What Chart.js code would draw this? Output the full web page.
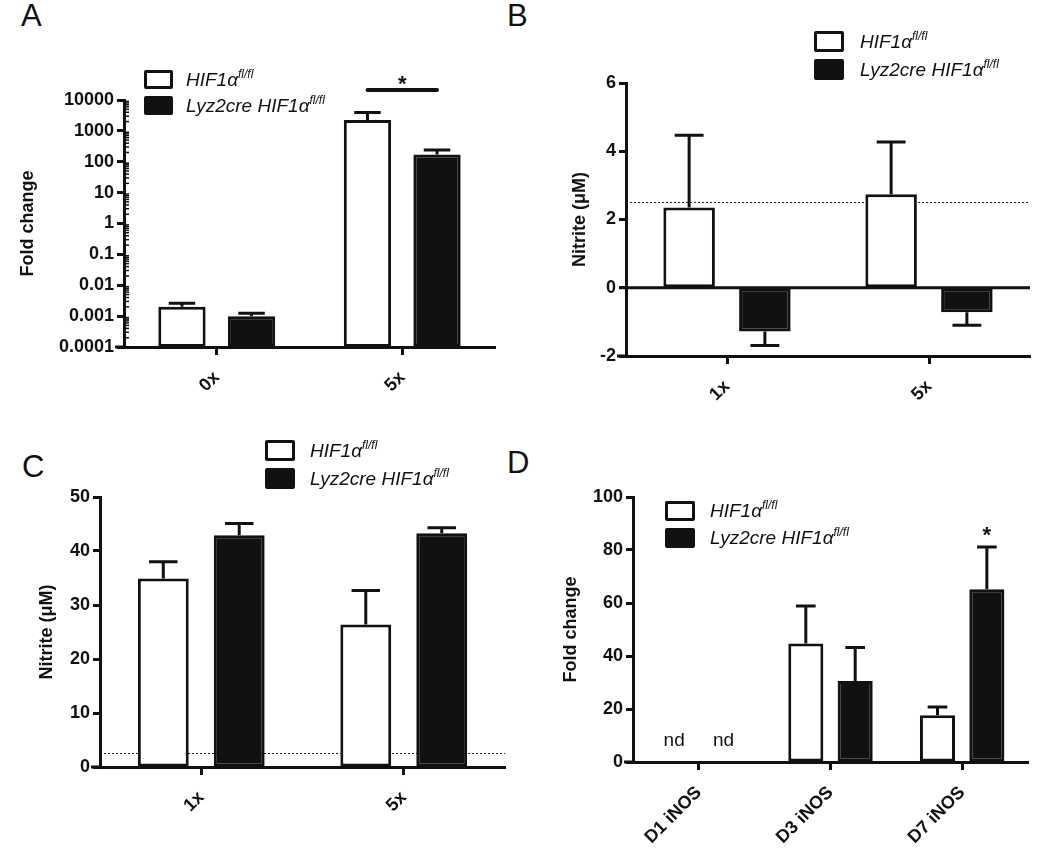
<!DOCTYPE html>
<html>
<head>
<meta charset="utf-8">
<script src="https://cdn.jsdelivr.net/npm/chart.js@4.4.0/dist/chart.umd.min.js"></script>
<style>
body { margin:0; background:#fff; width:1050px; height:862px; position:relative; overflow:hidden; font-family:"Liberation Sans", Arial, sans-serif; color:#111; }
canvas { position:absolute; }
.letter { position:absolute; font-size:31px; line-height:1; }
.box { position:absolute; box-sizing:border-box; border:3px solid #111; border-radius:2px; background:#fff; }
.box.dark { background:#111; }
.txt { position:absolute; font-style:italic; font-size:19px; white-space:nowrap; }
.txt sup { font-size:12px; vertical-align:8px; line-height:0; }
</style>
</head>
<body>
<div class="letter" style="left:21px;top:0px">A</div>
<div class="letter" style="left:507px;top:0px">B</div>
<div class="letter" style="left:22px;top:451px">C</div>
<div class="letter" style="left:507px;top:447px">D</div>

<canvas id="chartA" width="515" height="425" style="left:0;top:0"></canvas>
<canvas id="chartB" width="530" height="425" style="left:520px;top:0"></canvas>
<canvas id="chartC" width="515" height="432" style="left:0;top:430px"></canvas>
<canvas id="chartD" width="530" height="432" style="left:520px;top:430px"></canvas>

<script>
// ---- data ----
var seriesNames = ['HIF1α fl/fl', 'Lyz2cre HIF1α fl/fl'];

// A: fold change, log scale
var catsA = ['0x', '5x'];
var wtA = [0.002, 2230];
var wtErrA = [0.0006, 1700];
var koA = [0.001, 172];
var koErrA = [0.00023, 66];
var yTicksA = [0.0001, 0.001, 0.01, 0.1, 1, 10, 100, 1000, 10000];

// B: nitrite (uM)
var catsB = ['1x', '5x'];
var wtB = [2.35, 2.74];
var wtErrB = [2.12, 1.53];
var koB = [-1.28, -0.72];
var koErrB = [0.41, 0.38];
var limitB = 2.5;

// C: nitrite (uM)
var catsC = ['1x', '5x'];
var wtC = [34.9, 26.4];
var wtErrC = [3.1, 6.3];
var koC = [42.9, 43.3];
var koErrC = [2.2, 1.0];
var limitC = 2.5;

// D: iNOS fold change (D1 not detected)
var catsD = ['D1 iNOS', 'D3 iNOS', 'D7 iNOS'];
var wtD = [null, 44.7, 17.6];
var wtErrD = [null, 14.2, 3.2];
var koD = [null, 30.6, 65.2];
var koErrD = [null, 12.6, 15.9];
var ndLevelD = 8;

Chart.defaults.font.family = "'Liberation Sans', Arial, sans-serif";
Chart.defaults.color = '#111';

// error bars, detection limit, zero line, stars etc.
var extras = {
    id: 'extras',
    beforeDatasetsDraw: function(chart, args, o) {
        if (o.dotted == null) return;
        var ctx = chart.ctx, a = chart.chartArea;
        var py = chart.scales.y.getPixelForValue(o.dotted);
        ctx.save();
        ctx.strokeStyle = '#222';
        ctx.lineWidth = 1;
        ctx.setLineDash([2, 2]);
        ctx.beginPath();
        ctx.moveTo(a.left, py);
        ctx.lineTo(a.right, py);
        ctx.stroke();
        ctx.restore();
    },
    afterDatasetsDraw: function(chart, args, o) {
        var ctx = chart.ctx, a = chart.chartArea, ys = chart.scales.y;
        ctx.save();
        ctx.strokeStyle = '#111';
        ctx.fillStyle = '#111';
        ctx.lineWidth = 3;

        // x axis sticks out a bit left of the y axis
        ctx.beginPath();
        ctx.moveTo(a.left - 9, a.bottom);
        ctx.lineTo(a.left, a.bottom);
        ctx.stroke();

        if (o.zeroLine) {
            var z = ys.getPixelForValue(0);
            ctx.beginPath();
            ctx.moveTo(a.left - 7, z);
            ctx.lineTo(a.right, z);
            ctx.stroke();
        }

        // one sided error bars, pointing away from zero
        (o.errors || []).forEach(function(errs, d) {
            var meta = chart.getDatasetMeta(d);
            var vals = chart.data.datasets[d].data;
            meta.data.forEach(function(bar, i) {
                if (vals[i] == null || errs[i] == null) return;
                var sign = vals[i] < 0 ? -1 : 1;
                var y0 = ys.getPixelForValue(vals[i]);
                var y1 = ys.getPixelForValue(vals[i] + sign * errs[i]);
                var half = bar.width * 0.28;
                ctx.beginPath();
                ctx.moveTo(bar.x, y0);
                ctx.lineTo(bar.x, y1);
                ctx.moveTo(bar.x - half, y1);
                ctx.lineTo(bar.x + half, y1);
                ctx.stroke();
            });
        });

        // minor ticks of the log axis, drawn inside
        if (o.minorTicks) {
            ctx.lineWidth = 1.5;
            for (var t = 0; t < o.minorTicks.length - 1; t++) {
                for (var k = 2; k <= 9; k++) {
                    var my = ys.getPixelForValue(o.minorTicks[t] * k);
                    ctx.beginPath();
                    ctx.moveTo(a.left + 1, my);
                    ctx.lineTo(a.left + 5, my);
                    ctx.stroke();
                }
            }
            ctx.lineWidth = 3;
        }

        if (o.bracket) {
            var b1 = chart.getDatasetMeta(o.bracket[0][0]).data[o.bracket[0][1]];
            var b2 = chart.getDatasetMeta(o.bracket[1][0]).data[o.bracket[1][1]];
            var by = a.top - 10;
            ctx.lineCap = 'round';
            ctx.lineWidth = 4;
            ctx.beginPath();
            ctx.moveTo(b1.x, by);
            ctx.lineTo(b2.x, by);
            ctx.stroke();
            ctx.font = 'bold 22px "Liberation Sans", Arial';
            ctx.textAlign = 'center';
            ctx.textBaseline = 'middle';
            ctx.fillText('*', (b1.x + b2.x) / 2, by - 5);
        }

        if (o.star) {
            var d = o.star[0], i = o.star[1];
            var sb = chart.getDatasetMeta(d).data[i];
            var v = chart.data.datasets[d].data[i] + o.errors[d][i];
            ctx.font = 'bold 22px "Liberation Sans", Arial';
            ctx.textAlign = 'center';
            ctx.textBaseline = 'middle';
            ctx.fillText('*', sb.x, ys.getPixelForValue(v) - 11);
        }

        if (o.nd) {
            ctx.font = '19px "Liberation Sans", Arial';
            ctx.textAlign = 'center';
            ctx.textBaseline = 'middle';
            chart.data.datasets.forEach(function(ds, d) {
                var nb = chart.getDatasetMeta(d).data[o.nd.index];
                ctx.fillText('nd', nb.x, ys.getPixelForValue(o.nd.level));
            });
        }
        ctx.restore();
    }
};

function makeChart(id, cats, wt, ko, yOpts, box, plug) {
    var yScale = Object.assign({
        border: { display: true, width: 3, color: '#111' },
        grid: { drawOnChartArea: false, drawTicks: true, tickLength: 7, tickWidth: 3, color: '#111' },
        ticks: { font: { size: 18, weight: 'bold' }, color: '#111', padding: 3 },
        title: { display: true, text: yOpts.title, font: { size: 18, weight: 'bold' }, color: '#111',
                 padding: { top: box.titlePad, bottom: 0 } },
        afterFit: function(s) { s.width = box.yWidth; }
    }, yOpts.scale);
    yScale.ticks = Object.assign(yScale.ticks, yOpts.ticks || {});

    return new Chart(document.getElementById(id), {
        type: 'bar',
        data: {
            labels: cats,
            datasets: [{
                label: seriesNames[0],
                data: wt,
                backgroundColor: '#fff',
                borderColor: '#111',
                borderWidth: 3,
                borderSkipped: false,
                categoryPercentage: 0.75,
                barPercentage: box.barPct
            }, {
                label: seriesNames[1],
                data: ko,
                backgroundColor: '#111',
                borderColor: '#111',
                borderWidth: 3,
                borderSkipped: false,
                categoryPercentage: 0.75,
                barPercentage: box.barPct
            }]
        },
        options: {
            responsive: false,
            animation: false,
            layout: { padding: { top: box.top, right: box.right, left: 0, bottom: 0 } },
            plugins: {
                legend: { display: false },
                tooltip: { enabled: false },
                extras: plug
            },
            scales: {
                x: {
                    offset: true,
                    border: { display: true, width: 3, color: '#111' },
                    grid: { offset: false, drawOnChartArea: false, tickLength: 8, tickWidth: 3, color: '#111' },
                    ticks: { font: { size: 18, weight: 'bold' }, color: '#111', minRotation: 45, maxRotation: 45, padding: 12 },
                    afterFit: function(s) { s.height = box.xHeight; }
                },
                y: yScale
            }
        },
        plugins: [extras]
    });
}

makeChart('chartA', catsA, wtA, koA, {
    title: 'Fold change',
    scale: {
        type: 'logarithmic', min: yTicksA[0], max: yTicksA[yTicksA.length - 1],
        afterBuildTicks: function(s) { s.ticks = yTicksA.map(function(v) { return { value: v }; }); }
    },
    ticks: { autoSkip: false, callback: function(v) { return String(v); } }
}, { top: 100, right: 20, yWidth: 124, xHeight: 78, titlePad: 17, barPct: 0.68 },
{ errors: [wtErrA, koErrA], minorTicks: yTicksA, bracket: [[0, 1], [1, 1]] });

makeChart('chartB', catsB, wtB, koB, {
    title: 'Nitrite (\u03bcM)',
    scale: { min: -2, max: 6 },
    ticks: { stepSize: 2 }
}, { top: 83, right: 20, yWidth: 106, xHeight: 69, titlePad: 49, barPct: 0.68 },
{ errors: [wtErrB, koErrB], dotted: limitB, zeroLine: true });

makeChart('chartC', catsC, wtC, koC, {
    title: 'Nitrite (\u03bcM)',
    scale: { min: 0, max: 50 },
    ticks: { stepSize: 10 }
}, { top: 67, right: 10, yWidth: 100, xHeight: 95, titlePad: 36, barPct: 0.67 },
{ errors: [wtErrC, koErrC], dotted: limitC });

makeChart('chartD', catsD, wtD, koD, {
    title: 'Fold change',
    scale: { min: 0, max: 100 },
    ticks: { stepSize: 20 }
}, { top: 67, right: 22, yWidth: 113, xHeight: 100, titlePad: 40, barPct: 0.71 },
{ errors: [wtErrD, koErrD], star: [1, 2], nd: { index: 0, level: ndLevelD } });

// HTML legends (italic gene names with superscripts)
function addLegend(x, y, w, h, gap, textOff) {
    var names = [['HIF1', 'fl/fl'], ['Lyz2cre HIF1', 'fl/fl']];
    for (var r = 0; r < 2; r++) {
        var b = document.createElement('div');
        b.className = 'box' + (r ? ' dark' : '');
        b.style.cssText = 'left:' + x + 'px;top:' + (y + r * gap) + 'px;width:' + w + 'px;height:' + h + 'px';
        document.body.appendChild(b);
        var t = document.createElement('div');
        t.className = 'txt';
        t.style.cssText = 'left:' + (x + textOff) + 'px;top:' + (y + r * gap) + 'px;line-height:' + h + 'px';
        t.innerHTML = names[r][0] + '\u03b1<sup>' + names[r][1] + '</sup>';
        document.body.appendChild(t);
    }
}
addLegend(144, 70, 29, 19, 26, 42);
addLegend(814, 31, 30, 21, 28, 46);
addLegend(265, 440, 30, 21, 28, 45);
addLegend(665, 501, 30, 20, 27, 45);
</script>
</body>
</html>
